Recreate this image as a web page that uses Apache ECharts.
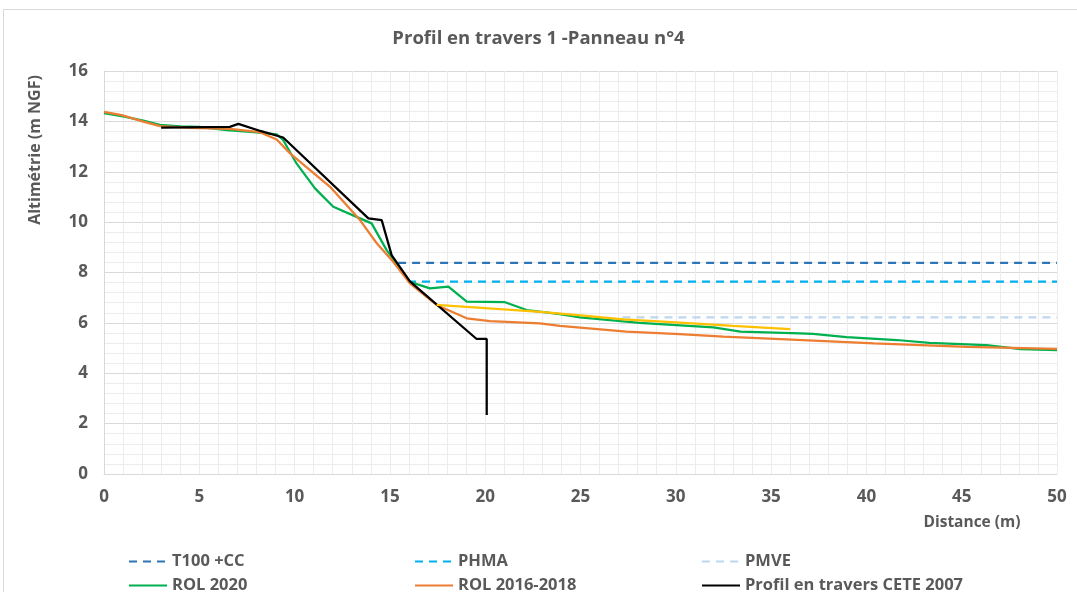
<!DOCTYPE html>
<html>
<head>
<meta charset="utf-8">
<script src="https://cdn.jsdelivr.net/npm/echarts@6/dist/echarts.min.js"></script>
<style>
  html, body { margin: 0; padding: 0; background: #fff; }
  #chart { width: 1077px; height: 592px; }
</style>
</head>
<body>
<div id="chart"></div>
<script>
// Profile points: [distance (m), altitude (m NGF)]
const rol2020 = [
  [0, 14.33], [1, 14.2], [2.06, 14.03], [2.94, 13.86], [4, 13.8], [5, 13.78], [6.44, 13.65],
  [8.0, 13.56], [9.06, 13.48], [9.4, 13.26], [10.1, 12.33], [11.07, 11.34], [12.03, 10.61],
  [13.43, 10.15], [14.04, 9.95], [14.83, 8.89], [16.05, 7.63], [17.1, 7.37], [18.07, 7.44],
  [19.03, 6.84], [21.04, 6.82], [22.18, 6.51], [23.92, 6.35], [24.97, 6.22], [28.1, 6.0],
  [31.97, 5.82], [33.4, 5.65], [36.5, 5.58], [37.2, 5.56], [38.96, 5.43], [41.6, 5.32],
  [43.3, 5.21], [46.3, 5.12], [48.1, 4.96], [50, 4.92]
];
const rol2016_2018 = [
  [0, 14.38], [0.93, 14.25], [2.06, 13.99], [2.94, 13.81], [4.5, 13.74], [6.6, 13.7],
  [8.18, 13.57], [9.06, 13.28], [9.76, 12.73], [11.86, 11.4], [13.43, 10.08], [14.31, 9.16],
  [15.09, 8.5], [16.05, 7.57], [17.45, 6.71], [19.03, 6.18], [20.25, 6.07], [22.87, 5.98],
  [23.92, 5.88], [27.4, 5.65], [30.2, 5.55], [32.5, 5.45], [35.5, 5.35], [40.4, 5.19],
  [45.3, 5.05], [50, 4.97]
];
const cete2007 = [
  [3.0, 13.75], [6.6, 13.78], [7.05, 13.9], [8.2, 13.62], [9.4, 13.36], [13.87, 10.15],
  [14.57, 10.08], [15.09, 8.69], [16.05, 7.65], [19.55, 5.36], [20.08, 5.36], [20.08, 2.34]
];
const surveyYellow = [
  [17.45, 6.71], [20, 6.59], [22.9, 6.44], [25, 6.3], [27.25, 6.14], [30, 6.02],
  [33, 5.88], [36, 5.75]
];
// Water levels: [start distance, end distance, altitude]
const t100cc = [15.43, 50, 8.38];
const phma = [15.95, 50, 7.64];
const pmve = [27.2, 50, 6.22];

const xTicks = { min: 0, max: 50, interval: 5 };
const yTicks = { min: 0, max: 16, interval: 2 };

const textColor = '#595959';
const fontFamily = '"Open Sans", "Liberation Sans", sans-serif';

function level(v) { return [[v[0], v[2]], [v[1], v[2]]]; }

function lineSeries(name, data, color, width, dashed) {
  return {
    name: name,
    type: 'line',
    data: data,
    showSymbol: false,
    symbol: 'none',
    animation: false,
    lineStyle: { color: color, width: width, type: dashed ? [8, 6] : 'solid', cap: 'butt' },
    itemStyle: { color: color },
    z: 3
  };
}

const legendCols = [123, 409, 696];
const legendRows = [548, 572];
const legendNames = [
  'T100 +CC', 'PHMA', 'PMVE',
  'ROL 2020', 'ROL 2016-2018', 'Profil en travers CETE 2007'
];
const legends = legendNames.map((n, i) => ({
  data: [n],
  left: legendCols[i % 3],
  top: legendRows[Math.floor(i / 3)],
  itemWidth: 38,
  itemHeight: 16,
  itemGap: 4,
  itemStyle: { opacity: 0 },
  textStyle: { color: textColor, fontSize: 16.5, fontWeight: 'bold', fontFamily: fontFamily, padding: [0, 0, 0, 0] },
  selectedMode: false
}));

const chart = echarts.init(document.getElementById('chart'), null, { renderer: 'canvas' });
chart.setOption({
  backgroundColor: '#ffffff',
  animation: false,
  title: {
    text: 'Profil en travers 1 -Panneau n°4',
    left: 'center',
    top: 24,
    textStyle: { color: textColor, fontSize: 18.5, fontWeight: 'bold', fontFamily: fontFamily }
  },
  legend: legends,
  grid: { left: 104, right: 20, top: 71, bottom: 118, containLabel: false },
  xAxis: {
    type: 'value',
    min: xTicks.min, max: xTicks.max, interval: xTicks.interval,
    axisLine: { show: true, lineStyle: { color: '#d9d9d9', width: 1 } },
    axisTick: { show: false },
    axisLabel: { color: textColor, fontSize: 17, fontWeight: 'bold', fontFamily: fontFamily, margin: 15 },
    splitLine: { show: true, lineStyle: { color: '#ececec', width: 1 } },
    minorTick: { show: false, splitNumber: 5 },
    minorSplitLine: { show: true, lineStyle: { color: '#ececec', width: 1 } }
  },
  yAxis: {
    type: 'value',
    min: yTicks.min, max: yTicks.max, interval: yTicks.interval,
    axisLine: { show: true, lineStyle: { color: '#d9d9d9', width: 1 } },
    axisTick: { show: false },
    axisLabel: { color: textColor, fontSize: 17, fontWeight: 'bold', fontFamily: fontFamily, margin: 16 },
    splitLine: { show: true, lineStyle: { color: '#d9d9d9', width: 1 } },
    minorTick: { show: false, splitNumber: 5 },
    minorSplitLine: { show: true, lineStyle: { color: '#ececec', width: 1 } }
  },
  graphic: [
    {
      type: 'rect',
      shape: { x: 3.5, y: 9.5, width: 1200, height: 700 },
      style: { fill: 'none', stroke: '#d9d9d9', lineWidth: 1 },
      silent: true, z: -10
    },
    {
      type: 'text',
      x: 35, y: 150,
      rotation: Math.PI / 2,
      style: {
        text: 'Altimétrie (m NGF)',
        fill: textColor, fontSize: 16, fontWeight: 'bold', fontFamily: fontFamily,
        align: 'center', verticalAlign: 'middle'
      }
    },
    {
      type: 'text',
      x: 972, y: 523,
      style: {
        text: 'Distance (m)',
        fill: textColor, fontSize: 15.5, fontWeight: 'bold', fontFamily: fontFamily,
        align: 'center', verticalAlign: 'middle'
      }
    }
  ],
  series: [
    lineSeries('T100 +CC', level(t100cc), '#2E75B6', 2.25, true),
    lineSeries('PHMA', level(phma), '#00B0F0', 2.25, true),
    lineSeries('PMVE', level(pmve), '#BDD7EE', 2.25, true),
    lineSeries('ROL 2020', rol2020, '#00B050', 2.25, false),
    lineSeries('ROL 2016-2018', rol2016_2018, '#ED7D31', 2.25, false),
    lineSeries('Profil en travers CETE 2007', cete2007, '#000000', 2.25, false),
    lineSeries('Levé', surveyYellow, '#FFC000', 2.25, false)
  ]
});
</script>
</body>
</html>
